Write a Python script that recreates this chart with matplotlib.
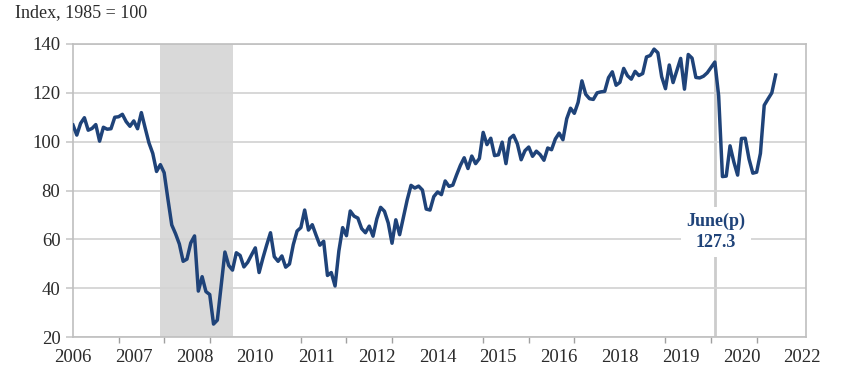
import matplotlib
matplotlib.use('Agg')
import matplotlib.pyplot as plt
import numpy as np

plt.rcParams['font.family'] = ['Liberation Serif', 'DejaVu Serif']

# monthly index, Jan 2006 .. Jun 2021
conf_2006 = [106.8, 102.7, 107.5, 109.8, 104.7, 105.4, 107.0, 100.2, 105.9, 105.1, 105.3, 110.0]
conf_2007 = [110.2, 111.2, 108.2, 106.3, 108.5, 105.3, 111.9, 105.6, 99.5, 95.2, 87.8, 90.6]
conf_2008 = [87.3, 76.4, 65.9, 62.3, 58.1, 51.0, 51.9, 58.5, 61.4, 38.8, 44.7, 38.6]
conf_2009 = [37.4, 25.3, 26.9, 40.8, 54.8, 49.3, 47.4, 54.5, 53.4, 48.7, 50.6, 53.6]
conf_2010 = [56.5, 46.4, 52.3, 57.7, 62.7, 52.9, 51.0, 53.2, 48.6, 49.9, 57.8, 63.4]
conf_2011 = [64.8, 72.0, 63.8, 66.0, 61.7, 57.6, 59.2, 45.2, 46.4, 40.9, 55.2, 64.8]
conf_2012 = [61.5, 71.6, 69.5, 68.7, 64.4, 62.7, 65.4, 61.3, 68.4, 73.1, 71.5, 66.7]
conf_2013 = [58.4, 68.0, 61.9, 69.0, 76.2, 82.1, 81.0, 81.8, 80.2, 72.4, 72.0, 77.5]
conf_2014 = [79.4, 78.3, 83.9, 81.7, 82.2, 86.4, 90.3, 93.4, 89.0, 94.1, 91.0, 93.1]
conf_2015 = [103.8, 98.8, 101.4, 94.3, 94.6, 99.8, 91.0, 101.3, 102.6, 99.1, 92.6, 96.3]
conf_2016 = [97.8, 94.0, 96.1, 94.7, 92.4, 97.4, 96.7, 101.1, 103.5, 100.8, 109.4, 113.7]
conf_2017 = [111.6, 116.1, 124.9, 119.4, 117.6, 117.3, 120.0, 120.4, 120.6, 126.2, 128.6, 123.1]
conf_2018 = [124.3, 130.0, 127.0, 125.6, 128.8, 127.1, 127.9, 134.7, 135.3, 137.9, 136.4, 126.6]
conf_2019 = [121.7, 131.4, 124.2, 129.2, 134.1, 121.5, 135.7, 134.2, 126.3, 126.1, 126.8, 128.2]
conf_2020 = [130.4, 132.6, 118.8, 85.7, 85.9, 98.3, 91.7, 86.3, 101.3, 101.4, 92.9, 87.1]
conf_2021 = [87.5, 95.2, 114.9, 117.5, 120.0, 127.3]

x_labels = ['2006', '2007', '2008', '2010', '2011', '2012', '2014',
            '2015', '2016', '2018', '2019', '2020', '2022']
recession = ('2007-12', '2009-06')
covid_mark = '2020-02'
note = 'June(p)\n127.3'


def mi(s):
    y, m = s.split('-')
    return (int(y) - 2006) * 12 + int(m) - 1


conf = (conf_2006 + conf_2007 + conf_2008 + conf_2009 + conf_2010 + conf_2011 +
        conf_2012 + conf_2013 + conf_2014 + conf_2015 + conf_2016 + conf_2017 +
        conf_2018 + conf_2019 + conf_2020 + conf_2021)
months = np.arange(len(conf))

fig = plt.figure(figsize=(8.45, 3.75), dpi=100)
ax = fig.add_axes([73/845, 1 - 337/375, (806 - 73)/845, (337 - 44)/375])

# shade through the end of the last recession month
ax.axvspan(mi(recession[0]), mi(recession[1]) + 1, color='#d9d9d9', lw=0, zorder=0)
ax.grid(axis='y', color='#d4d4d4', lw=1.3, zorder=1)
ax.axvline(mi(covid_mark), color='#cccccc', lw=2, zorder=1)
ax.plot(months, conf, color='#1f4379', lw=2.5, zorder=3)

ax.text(mi(covid_mark) + 0.3, 63, note, ha='center', va='center', fontsize=13,
        fontweight='bold', color='#1f4379', linespacing=1.3, zorder=4,
        bbox=dict(facecolor='white', edgecolor='none', pad=4))

ax.set_xlim(0, 193)
ax.set_ylim(20, 140)
ax.set_yticks(np.arange(20, 141, 20))
ax.set_xticks(np.arange(0, 193, 16))
ax.set_xticklabels(x_labels)
ax.set_xticks(np.arange(0, 193, 12), minor=True)
ax.tick_params(axis='x', which='major', length=0, pad=9, labelsize=13.5, labelcolor='#2b2b2b')
ax.tick_params(axis='x', which='minor', length=4, color='#a0a0a0', width=1, direction='out')
ax.tick_params(axis='y', length=5, color='#c8c8c8', width=1.2, labelsize=13.5,
               labelcolor='#2b2b2b', pad=4)

for s in ['left', 'bottom', 'right', 'top']:
    ax.spines[s].set_color('#bfbfbf')
    ax.spines[s].set_linewidth(1.2)

fig.text(15/845, 1 - 13/375, 'Index, 1985 = 100', fontsize=13, color='#2b2b2b',
         va='center', ha='left')

fig.savefig('out.png', dpi=100)
